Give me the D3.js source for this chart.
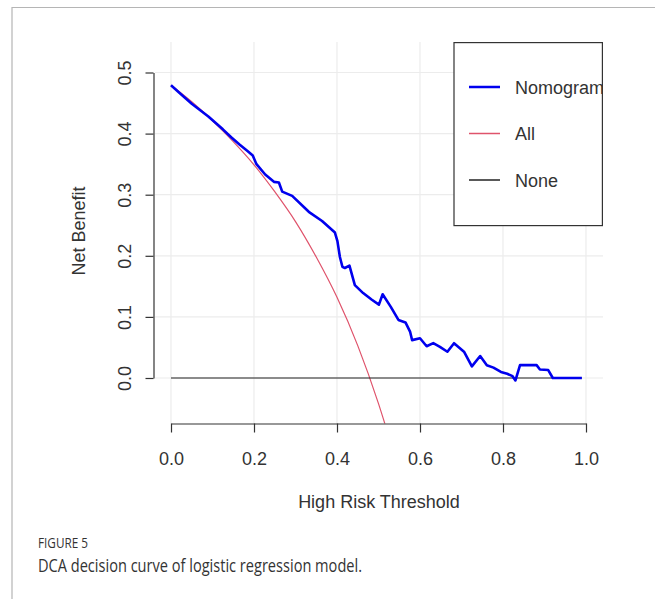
<!DOCTYPE html>
<html>
<head>
<meta charset="utf-8">
<title>DCA decision curve</title>
<script src="https://d3js.org/d3.v7.min.js"></script>
<style>
  body { margin: 0; background: #fff; }
  svg text { font-family: "Liberation Sans", Arial, sans-serif; fill: #333; }
</style>
</head>
<body>
<script>
// thresholds and net benefit
var nomogram = [
  [0.00, 0.479], [0.02, 0.467], [0.05, 0.449], [0.09, 0.428], [0.125, 0.407],
  [0.145, 0.394], [0.165, 0.382], [0.185, 0.371], [0.197, 0.364], [0.206, 0.350],
  [0.227, 0.333], [0.248, 0.321], [0.260, 0.320], [0.268, 0.305], [0.292, 0.298],
  [0.332, 0.272], [0.364, 0.257], [0.395, 0.238], [0.401, 0.224], [0.407, 0.198],
  [0.413, 0.182], [0.419, 0.180], [0.430, 0.184], [0.443, 0.152], [0.463, 0.139],
  [0.484, 0.128], [0.501, 0.120], [0.510, 0.137], [0.530, 0.116], [0.548, 0.095],
  [0.565, 0.091], [0.576, 0.076], [0.581, 0.062], [0.600, 0.065], [0.616, 0.052],
  [0.632, 0.057], [0.648, 0.051], [0.666, 0.043], [0.682, 0.057], [0.706, 0.043],
  [0.725, 0.019], [0.745, 0.036], [0.761, 0.021], [0.777, 0.017], [0.795, 0.010],
  [0.810, 0.007], [0.823, 0.003], [0.830, -0.004], [0.841, 0.021], [0.881, 0.021],
  [0.889, 0.014], [0.909, 0.013], [0.920, 0.000], [0.990, 0.000]
];
var treatAll = [
  [0.00, 0.479], [0.05, 0.452], [0.10, 0.421], [0.15, 0.387], [0.20, 0.349],
  [0.25, 0.305], [0.30, 0.256], [0.35, 0.198], [0.40, 0.132], [0.45, 0.053],
  [0.50, -0.042], [0.52, -0.085]
];
var treatNone = [[0.00, 0.0], [0.99, 0.0]];

var xTicks = [0, 0.2, 0.4, 0.6, 0.8, 1.0];
var yTicks = [0, 0.1, 0.2, 0.3, 0.4, 0.5];
var legendNames = ["Nomogram", "All", "None"];
var legendColors = ["#0000ee", "#DF536B", "#222"];

var W = 655, H = 599;
var plot = {left: 155, right: 603, top: 42, bottom: 423.5};

var svg = d3.select("body").append("svg")
    .attr("width", W).attr("height", H);

// figure frame
svg.append("path")
    .attr("d", "M12," + H + "V7.5H" + W)
    .attr("fill", "none").attr("stroke", "#b5b5b5").attr("stroke-width", 1.2);

var x = d3.scaleLinear().domain([0, 1]).range([171, 586]);
var y = d3.scaleLinear().domain([0, 0.5]).range([378, 72.5]);

svg.append("defs").append("clipPath").attr("id", "plotclip")
  .append("rect")
    .attr("x", plot.left).attr("y", plot.top)
    .attr("width", plot.right - plot.left).attr("height", plot.bottom - plot.top);

// grid
var grid = svg.append("g").attr("stroke", "#ececec").attr("stroke-width", 1.2);
grid.selectAll(".gx").data(xTicks).enter().append("line")
    .attr("x1", d => x(d)).attr("x2", d => x(d))
    .attr("y1", plot.top).attr("y2", plot.bottom);
grid.selectAll(".gy").data(yTicks).enter().append("line")
    .attr("x1", plot.left).attr("x2", plot.right)
    .attr("y1", d => y(d)).attr("y2", d => y(d));

// curves
var line = d3.line().x(d => x(d[0])).y(d => y(d[1]));
var curves = svg.append("g").attr("clip-path", "url(#plotclip)").attr("fill", "none");
curves.append("path").datum(treatAll).attr("d", line.curve(d3.curveMonotoneX))
    .attr("stroke", legendColors[1]).attr("stroke-width", 1.2);
line.curve(d3.curveLinear);
curves.append("path").datum(treatNone).attr("d", line)
    .attr("stroke", legendColors[2]).attr("stroke-width", 1.2);
curves.append("path").datum(nomogram).attr("d", line)
    .attr("stroke", legendColors[0]).attr("stroke-width", 2.6)
    .attr("stroke-linejoin", "round");

// axes
var xAxis = svg.append("g").attr("transform", "translate(0," + plot.bottom + ")")
    .call(d3.axisBottom(x).tickValues(xTicks).tickFormat(d3.format(".1f"))
      .tickSize(9).tickSizeOuter(0).tickPadding(0));
xAxis.selectAll("path, line").attr("stroke", "#333").attr("stroke-width", 1.2);
xAxis.selectAll("text").attr("dy", null).attr("y", 41.5)
    .style("font-size", "18px").attr("fill", "#333");

var yAxis = svg.append("g").attr("transform", "translate(153.5,0)")
    .call(d3.axisLeft(y).tickValues(yTicks).tickFormat(d3.format(".1f"))
      .tickSize(8).tickSizeOuter(0));
yAxis.selectAll("path, line").attr("stroke", "#333").attr("stroke-width", 1.2);
yAxis.selectAll("text")
    .attr("x", null).attr("dy", null).attr("text-anchor", "middle")
    .attr("transform", "translate(-23,0) rotate(-90)")
    .style("font-size", "18px").attr("fill", "#333");

// axis titles
svg.append("text").attr("x", 379).attr("y", 508).attr("text-anchor", "middle")
    .style("font-size", "18px").text("High Risk Threshold");
svg.append("text").attr("transform", "translate(85,231) rotate(-90)")
    .attr("text-anchor", "middle").style("font-size", "18px").text("Net Benefit");

// legend, clipped to the plot region like the R device
var legend = svg.append("g").attr("clip-path", "url(#plotclip)");
legend.append("rect")
    .attr("x", 454).attr("y", plot.top + 0.6).attr("width", plot.right - 454 - 0.6).attr("height", 183)
    .attr("fill", "#fff").attr("stroke", "#333").attr("stroke-width", 1.2);
legend.selectAll(".key").data(legendNames).enter().append("line")
    .attr("x1", 469).attr("x2", 500)
    .attr("y1", (d, i) => 87 + i * 46.5).attr("y2", (d, i) => 87 + i * 46.5)
    .attr("stroke", (d, i) => legendColors[i])
    .attr("stroke-width", (d, i) => i === 0 ? 2.6 : 1.3);
legend.selectAll(".label").data(legendNames).enter().append("text")
    .attr("x", 515).attr("y", (d, i) => 93.5 + i * 46.5)
    .style("font-size", "18px").text(d => d);

// caption
svg.append("text").attr("x", 38).attr("y", 548)
    .attr("textLength", 50).attr("lengthAdjust", "spacingAndGlyphs")
    .style("font-family", "'Open Sans', sans-serif").style("font-size", "14px")
    .attr("fill", "#5b6a72").text("FIGURE 5");
svg.append("text").attr("x", 38).attr("y", 572)
    .attr("textLength", 324).attr("lengthAdjust", "spacingAndGlyphs")
    .style("font-family", "'Open Sans', sans-serif").style("font-size", "18px")
    .attr("fill", "#4d4d4d").text("DCA decision curve of logistic regression model.");
</script>
</body>
</html>
